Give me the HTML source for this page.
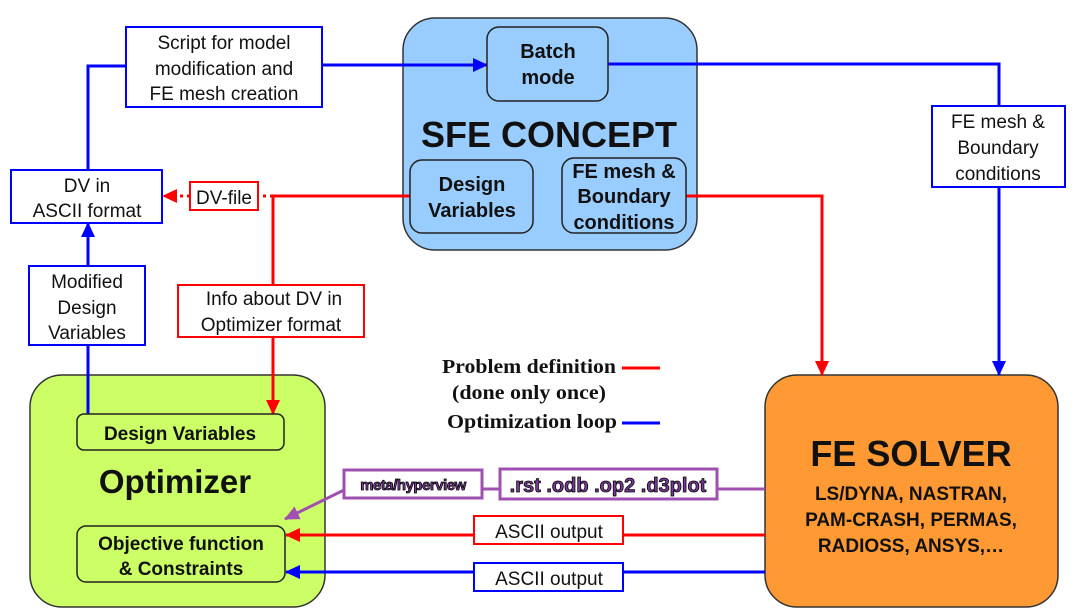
<!DOCTYPE html>
<html><head><meta charset="utf-8"><style>
html,body{margin:0;padding:0;background:#fff;}
svg{display:block;}
text{font-family:"Liberation Sans",sans-serif;}
.s text{font-family:"Liberation Serif",serif;font-weight:bold;}
</style></head><body>
<svg width="1080" height="614" viewBox="0 0 1080 614" xmlns="http://www.w3.org/2000/svg">
<defs>
<marker id="ab" markerWidth="15" markerHeight="14" refX="14" refY="7" orient="auto" markerUnits="userSpaceOnUse"><path d="M0,0 L15,7 L0,14 z" fill="#0000ff"/></marker>
<marker id="ar" markerWidth="15" markerHeight="14" refX="14" refY="7" orient="auto" markerUnits="userSpaceOnUse"><path d="M0,0 L15,7 L0,14 z" fill="#ff0000"/></marker>
<marker id="ap" markerWidth="15" markerHeight="14" refX="14" refY="7" orient="auto" markerUnits="userSpaceOnUse"><path d="M0,0 L15,7 L0,14 z" fill="#a050b0"/></marker>
</defs>

<rect x="403" y="18" width="294" height="232" rx="32" fill="#99ccff" stroke="#333" stroke-width="1.5"/>
<rect x="30" y="375" width="295" height="232" rx="32" fill="#ccff66" stroke="#333" stroke-width="1.5"/>
<rect x="765" y="375" width="293" height="232" rx="32" fill="#ff9933" stroke="#333" stroke-width="1.5"/>

<g stroke="#0000ff" stroke-width="3" fill="none">
<polyline points="88,170 88,66 126,66"/>
<line x1="322" y1="65" x2="487" y2="65" marker-end="url(#ab)"/>
<polyline points="608,64 999,64 999,106"/>
<line x1="999" y1="187" x2="999" y2="375" marker-end="url(#ab)"/>
<line x1="88" y1="266" x2="88" y2="223" marker-end="url(#ab)"/>
<line x1="88" y1="345" x2="88" y2="414"/>
<line x1="765" y1="572" x2="286" y2="572" marker-end="url(#ab)"/>
<line x1="622" y1="423" x2="660" y2="423"/>
</g>
<g stroke="#ff0000" stroke-width="3" fill="none">
<polyline points="410,196 273,196 273,285"/>
<line x1="273" y1="337" x2="273" y2="414" marker-end="url(#ar)"/>
<polyline points="686,196 822,196 822,375" marker-end="url(#ar)"/>
<line x1="765" y1="535" x2="286" y2="535" marker-end="url(#ar)"/>
<line x1="622" y1="368" x2="660" y2="368"/>
</g>
<g stroke="#ff0000" stroke-width="3" fill="none" stroke-dasharray="3,4">
<line x1="273" y1="196" x2="258" y2="196"/>
<line x1="190" y1="196" x2="163" y2="196" marker-end="url(#ar)"/>
</g>
<g stroke="#a050b0" stroke-width="3" fill="none">
<line x1="717" y1="489" x2="765" y2="489"/>
<line x1="482" y1="489" x2="500" y2="489"/>
<line x1="344" y1="490" x2="285" y2="519" marker-end="url(#ap)"/>
</g>

<g fill="none" stroke="#222" stroke-width="1.5">
<rect x="487" y="27" width="121" height="74" rx="12"/>
<rect x="410" y="160" width="123" height="73" rx="12"/>
<rect x="562" y="158" width="124" height="75" rx="12"/>
<rect x="77" y="414" width="207" height="36" rx="7"/>
<rect x="77" y="526" width="208" height="56" rx="9"/>
</g>

<g fill="#fff" stroke-width="2">
<rect x="126" y="27" width="196" height="80" stroke="#0000ff"/>
<rect x="11" y="170" width="151" height="53" stroke="#0000ff"/>
<rect x="29" y="266" width="116" height="79" stroke="#0000ff"/>
<rect x="932" y="106" width="133" height="81" stroke="#0000ff"/>
<rect x="474" y="563" width="149" height="28" stroke="#0000ff"/>
<rect x="190" y="182" width="68" height="28" stroke="#ff0000"/>
<rect x="178" y="285" width="186" height="52" stroke="#ff0000"/>
<rect x="474" y="516" width="149" height="28" stroke="#ff0000"/>
</g>
<rect x="344" y="470" width="138" height="28" fill="#fff" stroke="#a050b0" stroke-width="3"/>
<rect x="500" y="469" width="217" height="30" fill="#fff" stroke="#a050b0" stroke-width="3"/>

<g font-size="19" fill="#111" text-anchor="middle">
<text x="224" y="49">Script for model</text>
<text x="224" y="75">modification and</text>
<text x="224" y="100">FE mesh creation</text>
<text x="87" y="192">DV in</text>
<text x="87" y="217">ASCII format</text>
<text x="224" y="204">DV-file</text>
<text x="87" y="288">Modified</text>
<text x="87" y="314">Design</text>
<text x="87" y="339">Variables</text>
<text x="274" y="305">Info about DV in</text>
<text x="271" y="331">Optimizer format</text>
<text x="998" y="128">FE mesh &amp;</text>
<text x="998" y="154">Boundary</text>
<text x="998" y="180">conditions</text>
<text x="549" y="538">ASCII output</text>
<text x="549" y="585">ASCII output</text>
</g>
<g font-weight="bold" fill="#111" text-anchor="middle">
<text x="548" y="58" font-size="20">Batch</text>
<text x="548" y="84" font-size="20">mode</text>
<text x="549" y="147" font-size="36">SFE CONCEPT</text>
<text x="472" y="191" font-size="20">Design</text>
<text x="472" y="217" font-size="20">Variables</text>
<text x="624" y="178" font-size="20">FE mesh &amp;</text>
<text x="624" y="203" font-size="20">Boundary</text>
<text x="624" y="229" font-size="20">conditions</text>
<text x="180" y="440" font-size="19">Design Variables</text>
<text x="175" y="493" font-size="33">Optimizer</text>
<text x="181" y="550" font-size="19">Objective function</text>
<text x="181" y="575" font-size="19">&amp; Constraints</text>
<text x="911" y="466" font-size="36">FE SOLVER</text>
<text x="911" y="500" font-size="19">LS/DYNA, NASTRAN,</text>
<text x="911" y="526" font-size="19">PAM-CRASH, PERMAS,</text>
<text x="911" y="552" font-size="19">RADIOSS, ANSYS,…</text>
<text x="413" y="490" font-size="15" fill="#7a3a9a" stroke="#000" stroke-width="0.8" letter-spacing="-0.5">meta/hyperview</text>
<text x="608" y="492" font-size="20" fill="#7a3a9a" stroke="#000" stroke-width="0.8">.rst .odb .op2 .d3plot</text>
</g>
<g class="s" font-size="20" fill="#111">
<text x="442" y="373" textLength="174" lengthAdjust="spacingAndGlyphs">Problem definition</text>
<text x="452" y="399" textLength="154" lengthAdjust="spacingAndGlyphs">(done only once)</text>
<text x="447" y="428" textLength="170" lengthAdjust="spacingAndGlyphs">Optimization loop</text>
</g>
</svg>
</body></html>
